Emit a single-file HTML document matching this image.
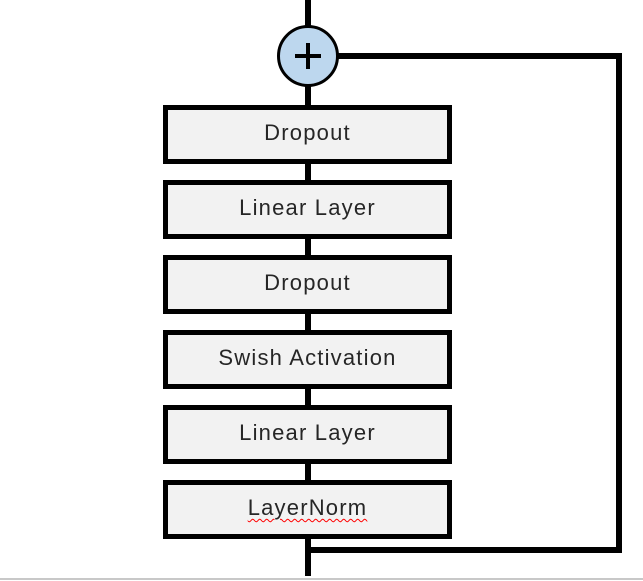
<!DOCTYPE html>
<html><head><style>
html,body{margin:0;padding:0;background:#fff;}
body{width:643px;height:581px;position:relative;overflow:hidden;font-family:"Liberation Sans","Noto Sans CJK JP",sans-serif;}
.l{position:absolute;background:#000;}
.b{position:absolute;left:163px;width:279px;height:49px;border:5px solid #000;background:#f2f2f2;color:#262626;font-size:22px;line-height:46px;text-align:center;letter-spacing:1.2px;}
</style></head><body>
<div class="l" style="left:305px;top:0;width:6px;height:576px"></div>
<div class="l" style="left:330px;top:53px;width:291px;height:6px"></div>
<div class="l" style="left:616px;top:53px;width:6px;height:500px"></div>
<div class="l" style="left:308px;top:547px;width:314px;height:6px"></div>
<div style="position:absolute;left:0;top:578px;width:643px;height:2px;background:#c8c8c8"></div>
<div style="position:absolute;left:277px;top:25px;border:3px solid #000;border-radius:50%;background:#bdd7ee;width:56px;height:56px;"></div>
<div class="l" style="left:295px;top:54px;width:26px;height:4px"></div>
<div class="l" style="left:306px;top:43px;width:4px;height:26px"></div>
<div class="b" style="top:105px">Dropout</div>
<div class="b" style="top:180px">Linear Layer</div>
<div class="b" style="top:255px">Dropout</div>
<div class="b" style="top:330px">Swish Activation</div>
<div class="b" style="top:405px">Linear Layer</div>
<div class="b" style="top:480px"><span style="text-decoration:underline wavy red;text-decoration-thickness:1px;text-underline-offset:3px">LayerNorm</span></div>
</body></html>
